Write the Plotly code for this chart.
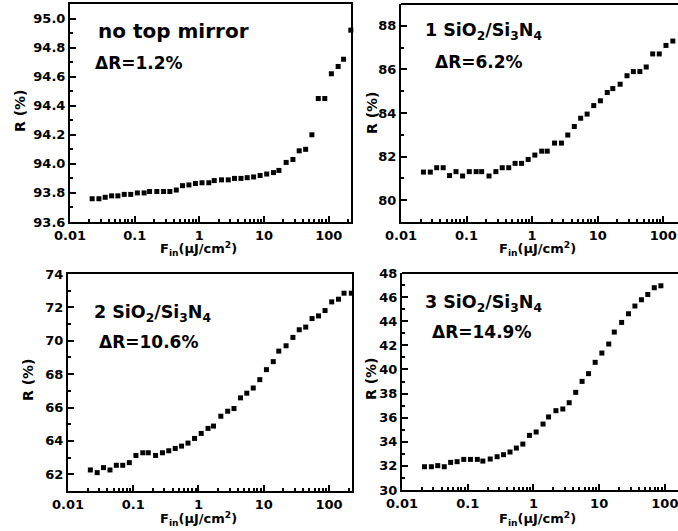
import plotly.graph_objects as go

# ---- data ----
fluence = [0.022, 0.028, 0.035, 0.044, 0.055, 0.069, 0.087, 0.11, 0.14, 0.17,
           0.22, 0.28, 0.35, 0.44, 0.55, 0.69, 0.87, 1.1, 1.4, 1.7,
           2.2, 2.8, 3.5, 4.4, 5.5, 6.9, 8.7, 11, 14, 17,
           22, 28, 35, 44, 55, 69, 87, 110, 140, 170, 220]

r_none = [93.76, 93.76, 93.77, 93.78, 93.78, 93.79, 93.79, 93.80, 93.80, 93.81,
          93.81, 93.81, 93.81, 93.82, 93.85, 93.855, 93.865, 93.87, 93.87, 93.885,
          93.89, 93.89, 93.90, 93.90, 93.905, 93.91, 93.92, 93.93, 93.94, 93.955,
          94.01, 94.03, 94.09, 94.10, 94.20, 94.45, 94.45, 94.62, 94.67, 94.72, 94.92]

r_one = [81.29, 81.29, 81.49, 81.49, 81.13, 81.31, 81.11, 81.31, 81.31, 81.31,
         81.11, 81.31, 81.49, 81.49, 81.69, 81.69, 81.87, 82.07, 82.25, 82.25,
         82.62, 82.62, 82.99, 83.38, 83.76, 83.95, 84.34, 84.56, 84.94, 85.12,
         85.32, 85.71, 85.90, 85.90, 86.11, 86.71, 86.71, 87.10, 87.30, 87.30]

r_two = [62.26, 62.10, 62.40, 62.26, 62.54, 62.54, 62.70, 63.13, 63.29, 63.29,
         63.13, 63.29, 63.41, 63.55, 63.69, 63.87, 64.15, 64.45, 64.75, 64.89,
         65.48, 65.78, 65.94, 66.58, 66.86, 67.17, 67.67, 68.27, 68.75, 69.38,
         69.70, 70.20, 70.66, 70.82, 71.33, 71.49, 71.81, 72.33, 72.49, 72.85, 72.85]

r_three = [31.93, 31.93, 32.02, 31.93, 32.29, 32.35, 32.54, 32.54, 32.54, 32.40,
           32.57, 32.76, 32.93, 33.15, 33.48, 33.81, 34.53, 34.81, 35.47, 36.06,
           36.58, 36.72, 37.24, 38.10, 39.01, 39.65, 40.59, 41.36, 42.11, 43.10,
           43.90, 44.62, 45.26, 45.78, 46.22, 46.78, 46.94]

series = [r_none, r_one, r_two, r_three]
panel_titles = ["no top mirror",
                "1 SiO<sub>2</sub>/Si<sub>3</sub>N<sub>4</sub>",
                "2 SiO<sub>2</sub>/Si<sub>3</sub>N<sub>4</sub>",
                "3 SiO<sub>2</sub>/Si<sub>3</sub>N<sub>4</sub>"]
delta_labels = ["ΔR=1.2%", "ΔR=6.2%", "ΔR=10.6%", "ΔR=14.9%"]
y_ranges = [[93.6, 95.1], [79, 89], [61, 74], [30, 48]]
y_tick0 = [93.6, 80, 62, 30]
y_dticks = [0.2, 2, 2, 2]
y_minor = [0.1, 1, 1, 1]
y_formats = [".1f", "d", "d", "d"]
x_tick_vals = [0.01, 0.1, 1, 10, 100]
x_tick_text = ["0.01", "0.1", "1", "10", "100"]
y_title = "R (%)"
x_title = "F<sub>in</sub>(μJ/cm<sup>2</sup>)"

# ---- layout geometry (pixels) ----
W, H = 678, 531
boxes = [(70, 351, 4, 222), (401, 678, 4, 222), (68, 351.5, 274, 491), (402, 678, 273, 490)]
x_ranges = [[-2, 2.345], [-2, 2.225], [-2, 2.345], [-2, 2.2]]
title_pos = [(96, 31), (423, 32), (92, 313), (423, 303)]
title_sizes = [20, 17.5, 17.5, 17.5]
delta_pos = [(93, 63), (433, 62), (97, 342), (430, 332)]
xtitle_pos = [(198, 249), (537, 249), (199, 519), (537, 519)]
ytitle_pos = [(20, 111), (372, 113), (28, 380), (371, 379)]

FONT = "DejaVu Sans"
tickfont = dict(family=FONT, size=13, color="black", weight="bold")
minor_x = [m * 10 ** e for e in range(-2, 3) for m in range(2, 10)]

fig = go.Figure()
annotations = []
shapes = []
for i in range(4):
    sfx = "" if i == 0 else str(i + 1)
    l, r, t, b = boxes[i]
    left_panel = i in (0, 2)
    ys = series[i]
    fig.add_trace(go.Scatter(
        x=fluence[:len(ys)], y=ys, mode="markers",
        marker=dict(symbol="square", size=5, color="black"),
        xaxis="x" + sfx, yaxis="y" + sfx, cliponaxis=False, showlegend=False))
    common = dict(showline=True, linewidth=2, linecolor="black",
                  mirror=True if left_panel else False, automargin=False,
                  ticks="inside", ticklen=6, tickwidth=1.5, tickcolor="black",
                  showgrid=False, zeroline=False, tickfont=tickfont,
                  ticklabeloverflow="allow")
    fig.layout["xaxis" + sfx] = dict(
        type="log", range=x_ranges[i], domain=[l / W, r / W], anchor="y" + sfx,
        tickmode="array", tickvals=x_tick_vals, ticktext=x_tick_text,
        minor=dict(tickmode="array", tickvals=minor_x, ticks="inside", ticklen=3,
                   tickwidth=1.5, tickcolor="black", showgrid=False),
        **common)
    fig.layout["yaxis" + sfx] = dict(
        range=y_ranges[i], domain=[1 - b / H, 1 - t / H], anchor="x" + sfx,
        tick0=y_tick0[i], dtick=y_dticks[i], tickformat=y_formats[i],
        minor=dict(tick0=y_tick0[i], dtick=y_minor[i], ticks="inside", ticklen=3,
                   tickwidth=1.5, tickcolor="black", showgrid=False),
        **common)
    if not left_panel:
        shapes.append(dict(type="line", xref="x" + sfx + " domain", yref="y" + sfx + " domain",
                           x0=0, x1=1, y0=1, y1=1, line=dict(color="black", width=2)))
    annotations.append(dict(text=panel_titles[i], x=title_pos[i][0] / W, y=1 - title_pos[i][1] / H,
                            xref="paper", yref="paper", xanchor="left", yanchor="middle",
                            showarrow=False,
                            font=dict(family=FONT, size=title_sizes[i], color="black", weight="bold")))
    annotations.append(dict(text=delta_labels[i], x=delta_pos[i][0] / W, y=1 - delta_pos[i][1] / H,
                            xref="paper", yref="paper", xanchor="left", yanchor="middle",
                            showarrow=False, font=dict(family=FONT, size=17, color="black", weight="bold")))
    annotations.append(dict(text=x_title, x=xtitle_pos[i][0] / W, y=1 - xtitle_pos[i][1] / H,
                            xref="paper", yref="paper", xanchor="center", yanchor="middle",
                            showarrow=False, font=dict(family=FONT, size=13, color="black", weight="bold")))
    annotations.append(dict(text=y_title, x=ytitle_pos[i][0] / W, y=1 - ytitle_pos[i][1] / H,
                            xref="paper", yref="paper", xanchor="center", yanchor="middle",
                            textangle=-90, showarrow=False,
                            font=dict(family=FONT, size=14, color="black", weight="bold")))

fig.update_layout(width=W, height=H, margin=dict(l=0, r=0, t=0, b=0, autoexpand=False),
                  paper_bgcolor="white", plot_bgcolor="white",
                  annotations=annotations, shapes=shapes)
fig.write_html("out.html", config={"displayModeBar": False},
               post_script="document.body.style.margin='0';document.body.style.overflow='hidden';")
